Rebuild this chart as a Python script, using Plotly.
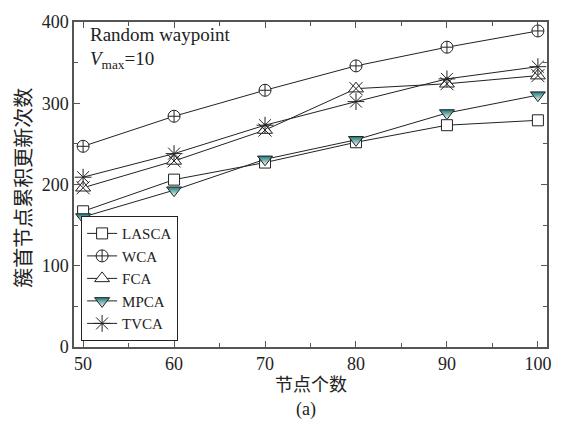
import plotly.graph_objects as go

nodes = [50, 60, 70, 80, 90, 100]
lasca = [167, 206, 227, 252, 273, 279]
wca = [247, 284, 316, 346, 369, 389]
fca = [196, 229, 267, 318, 324, 334]
mpca = [160, 193, 231, 255, 288, 310]
tvca = [209, 238, 273, 302, 330, 345]

x_ticks = [50, 60, 70, 80, 90, 100]
y_ticks = [0, 100, 200, 300, 400]

SERIF = "Liberation Serif, Times New Roman, serif"
CJK = "Noto Sans CJK SC, sans-serif"
BLK = "#222222"
TEAL = "#1a7a78"

fig = go.Figure()

def add(name, y, symbol, size, fill="white", gradient=None):
    marker = dict(symbol=symbol, size=size, color=fill,
                  line=dict(color=BLK, width=1))
    if gradient:
        marker["gradient"] = gradient
    fig.add_trace(go.Scatter(
        x=nodes, y=y, name=name, mode="lines+markers",
        line=dict(color=BLK, width=1),
        marker=marker, legendgroup=name))

add("LASCA", lasca, "square", 11)
add("WCA", wca, "circle-cross", 12)
add("FCA", fca, "triangle-up", 13)
fig.add_trace(go.Scatter(x=nodes, y=fca, mode="markers", showlegend=False,
                         legendgroup="FCA", hoverinfo="skip",
                         marker=dict(symbol="x-thin", size=13, color=BLK,
                                     line=dict(color=BLK, width=1))))
add("MPCA", mpca, "triangle-down", 13, fill=TEAL,
    gradient=dict(type="vertical", color="white"))
add("TVCA", tvca, "asterisk", 14, fill=BLK)

fig.update_layout(
    width=564, height=429,
    margin=dict(l=74, r=17, t=12, b=82),
    paper_bgcolor="white", plot_bgcolor="white",
    font=dict(family=SERIF, size=18, color=BLK),
    showlegend=True,
    legend=dict(x=0.015, y=0.018, xanchor="left", yanchor="bottom",
                bgcolor="white", bordercolor=BLK, borderwidth=1,
                font=dict(family=SERIF, size=15, color=BLK),
                tracegroupgap=0),
    xaxis=dict(range=[49.0, 101.0], tickvals=x_ticks, ticks="inside",
               ticklen=6, tickcolor="#555", showline=True, linecolor="#555",
               linewidth=1.5, mirror="ticks", showgrid=False, zeroline=False,
               tickfont=dict(family=SERIF, size=18),
               minor=dict(dtick=5, ticks="inside", ticklen=4, tickcolor="#555")),
    yaxis=dict(range=[0, 400], tickvals=y_ticks, ticks="inside",
               ticklen=6, tickcolor="#555", showline=True, linecolor="#555",
               linewidth=1.5, mirror="ticks", showgrid=False, zeroline=False,
               tickfont=dict(family=SERIF, size=18),
               minor=dict(dtick=50, ticks="inside", ticklen=4, tickcolor="#555")),
    annotations=[
        dict(text="Random waypoint", xref="paper", yref="paper", x=0.03, y=1.0,
             xanchor="left", yanchor="top", showarrow=False,
             font=dict(family=SERIF, size=19, color=BLK)),
        dict(text="<i>V</i><sub>max</sub>=10", xref="paper", yref="paper",
             x=0.03, y=0.925, xanchor="left", yanchor="top", showarrow=False,
             font=dict(family=SERIF, size=19, color=BLK)),
        dict(text="簇首节点累积更新次数", xref="paper", yref="paper", x=0, y=0.49,
             xshift=-51, xanchor="center", yanchor="middle", textangle=-90,
             showarrow=False, font=dict(family=CJK, size=20, color=BLK)),
        dict(text="节点个数", xref="paper", yref="paper", x=0.5, y=0,
             yshift=-36, xanchor="center", yanchor="middle", showarrow=False,
             font=dict(family=CJK, size=18, color=BLK)),
        dict(text="(a)", xref="paper", yref="paper", x=0.49, y=0,
             yshift=-62, xanchor="center", yanchor="middle", showarrow=False,
             font=dict(family=SERIF, size=18, color=BLK)),
    ],
)

fig.write_html("out.html")
